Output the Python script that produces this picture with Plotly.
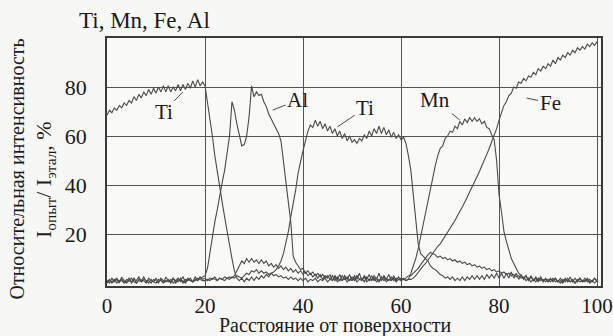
import numpy as np
import plotly.graph_objects as go

# sampling positions along the depth axis (every 0.5 unit)
distance = np.arange(0, 100.5, 0.5)

ti = [
    68.5, 70.5, 69.5, 71.5, 70.5, 72.5, 71.5, 73.5, 72.5, 74.5, 73.5, 76, 74.5, 77, 75.5, 78, 76.5, 79, 77, 79.5,
    77.5, 80, 78, 80.5, 78, 80.5, 78, 80, 78.5, 81, 78.5, 81, 79, 81.5, 79.5, 82.5, 80, 83, 80.5, 82,
    80.5, 74, 66, 60, 52, 45, 38, 33, 27, 21, 16, 10, 5, 2, 1, 2, 0.5, 2, 1, 2.5,
    1, 2.5, 1.5, 3, 2, 3.5, 2.5, 4, 4.5, 5.5, 7, 9, 12, 16, 21, 27, 32, 38, 45, 50,
    54, 58, 62, 64.5, 63.5, 66.5, 64, 66, 63, 65, 62, 64, 61, 63, 60, 62, 59, 61, 58, 60,
    57.5, 58.5, 57, 59, 58, 60.5, 59, 62, 60, 63, 61, 64, 61, 63.5, 60.5, 62.5, 59.5, 61.5, 59, 60.5,
    58.5, 59.5, 57, 52, 46, 36, 25, 16, 12, 11, 10, 9, 7, 6, 5.5, 4.5, 3.5, 3, 2, 2.5,
    1.5, 2.5, 1, 2, 1, 2.5, 1, 2.5, 1.5, 3, 1.5, 3, 1.5, 3, 1.5, 3.5, 2, 3.5, 2, 4,
    2, 4, 2, 4, 2, 4.5, 2, 4, 1.5, 3.5, 1.5, 3, 1, 3, 1, 2.5, 1, 2.5, 0.5, 2,
    0.5, 2, 0.5, 2, 0.5, 2, 0.5, 2, 0.5, 2.5, 0.5, 2, 0.5, 2, 0.5, 2, 0.5, 1.5, 0.5, 2,
    0.5,
]

al = [
    1, 0, 2, 0.5, 1.5, 0, 2.5, 1, 0.5, 2, 0, 1.5, 1, 2.5, 0.5, 1, 0, 2, 1, 0.5,
    2, 0.5, 1.5, 0, 2.5, 1, 0.5, 2, 0, 1.5, 1, 2.5, 0.5, 2, 1, 0.5, 2.5, 1, 2, 2.5,
    3, 6, 13, 19, 25, 30, 36, 41, 46, 53, 60, 74, 70.5, 65, 60, 56, 56.5, 60, 68, 80.5,
    76, 78, 76.5, 77, 74, 72, 69, 67, 65, 63, 61, 58, 49, 40, 33, 25, 11, 8.5, 7, 5.5,
    6, 4, 5, 3.5, 4.5, 3, 4, 2.5, 3.5, 2, 3, 1.5, 3, 1, 2.5, 1, 3, 1.5, 2.5, 1,
    2.5, 1, 3, 1.5, 2, 0.5, 2.5, 1, 3, 1, 2, 0.5, 2.5, 1, 2, 1, 2.5, 1, 2, 1.5,
    2, 1.5, 2, 3, 3, 4, 5, 6, 7.5, 9, 10.5, 11.5, 12.5, 12, 11.5, 10.5, 11, 10, 10.5, 9.5,
    10, 9, 9.5, 8.5, 9, 8, 8.5, 7.5, 8, 7, 7.5, 6.5, 7, 6, 6.5, 5.5, 6, 5, 5.5, 4.5,
    5, 4, 4.5, 3.5, 4, 3, 3.5, 2.5, 3, 2, 2.5, 1, 2, 0.5, 1.5, 0.5, 2, 1, 1.5, 0.5,
    1.5, 0.5, 2, 0.5, 1, 0, 1.5, 0.5, 2, 0.5, 1, 0, 1.5, 0.5, 1, 0.5, 2, 0.5, 1, 0,
    1,
]

mn = [
    0.5, 1.5, 0, 1, 2, 0.5, 1, 0, 1.5, 1, 2, 0.5, 0, 1.5, 1, 2.5, 0.5, 1, 0, 1.5,
    1, 0, 2, 1, 0.5, 1.5, 0, 2, 1, 0.5, 2, 0, 1.5, 1, 2, 0.5, 1.5, 1, 2.5, 1.5,
    2, 1, 2, 1.5, 2.5, 1, 2, 1.5, 2.5, 2, 2.5, 2, 3, 5, 7, 9, 8, 10, 8.5, 10,
    8.5, 9.5, 8, 9.5, 8, 9, 7, 8, 6.5, 7.5, 6, 7, 5.5, 6.5, 5, 6, 4.5, 5.5, 4, 5,
    3.5, 4.5, 3, 4, 2.5, 3.5, 2, 3.5, 1.5, 3, 2, 3.5, 1, 3, 1.5, 3.5, 1, 3, 1.5, 3.5,
    1, 3, 1.5, 4, 1, 3, 1.5, 3.5, 1, 3, 1.5, 4, 1, 3, 1.5, 3.5, 1, 3, 1, 2.5,
    1, 2, 1, 1.5, 4, 7, 10, 14, 19, 24, 29, 34, 39, 43, 48, 52, 55, 56, 59, 60,
    62, 61.5, 64, 63, 66, 64.5, 67, 65.5, 67.5, 66, 67.5, 66, 67, 65, 66, 63.5, 63, 60.5, 58.5, 50,
    36, 29, 21, 17, 13, 10, 8, 6, 4, 3, 2, 3, 1, 2.5, 1, 2, 0.5, 2, 1, 1.5,
    0.5, 1.5, 1, 2, 0.5, 1, 0, 1.5, 1, 0.5, 1.5, 0, 1, 2, 0.5, 1, 1.5, 0, 1, 2,
    1,
]

fe = [
    0, 1, 0.5, 1.5, 0, 1, 1.5, 0.5, 0, 1, 0.5, 2, 0, 1, 0.5, 1.5, 1, 0, 1.5, 0.5,
    0, 1.5, 1, 0, 1, 0.5, 1.5, 0, 1, 2, 0.5, 1, 0, 1.5, 1, 0.5, 1, 2, 1.5, 1,
    1, 1.5, 1, 2, 1.5, 1, 2, 1.5, 1, 2, 1.5, 2.5, 2, 3, 2.5, 2, 3, 4, 3.5, 5,
    4.5, 5.5, 4, 5, 4, 4.5, 3.5, 4, 3, 3.5, 2.5, 3, 2, 2.5, 1.5, 2.5, 1.5, 2, 1, 2,
    1, 2, 0.5, 1.5, 1, 2, 0.5, 1.5, 1, 2, 0.5, 1.5, 1, 2.5, 0.5, 1.5, 1, 2, 0.5, 1.5,
    1, 2, 0.5, 1.5, 1, 2.5, 0.5, 1.5, 1, 2, 0.5, 1.5, 1, 2.5, 0.5, 1.5, 1, 2, 0.5, 1.5,
    1, 1.5, 1, 1.5, 1.5, 2, 3, 4.5, 5.5, 7, 8, 9.5, 10.5, 12, 13.5, 15, 16, 17.5, 19, 21,
    22, 24, 25.5, 27.5, 29, 31, 33, 35, 37, 39, 41, 43, 45.5, 48, 50, 52.5, 55, 57.5, 60.5, 63,
    66.5, 70, 72.5, 74, 76.5, 77.5, 80, 79.5, 82, 81.5, 83.5, 82.5, 84.5, 84, 86, 85, 87.5, 86.5, 88.5, 87.5,
    89.5, 88.5, 91, 89.5, 92, 91, 93, 92, 94, 93, 95, 94, 96, 95, 96.5, 95.5, 97.5, 96.5, 98, 97,
    98.5,
]

x_ticks = [0, 20, 40, 60, 80, 100]
y_ticks = [20, 40, 60, 80]

# curve labels: (text, label x, label y, leader target x, leader target y)
labels = [
    ("Ti", 11.6, 70.0, 15.5, 78.0),
    ("Al", 38.9, 74.5, 33.8, 70.6),
    ("Ti", 52.7, 71.4, 47.0, 63.7),
    ("Mn", 67.0, 74.7, 72.0, 66.5),
    ("Fe", 90.4, 73.5, 85.6, 75.5),
]

FONT = "Times New Roman, Liberation Serif, DejaVu Serif, serif"
LINE = "#4a4a4a"
GRID = "#555555"
TXT = "#1a1a1a"

fig = go.Figure()
for series in (ti, al, mn, fe):
    fig.add_trace(go.Scatter(x=distance, y=series, mode="lines",
                             line=dict(color=LINE, width=1.1),
                             hoverinfo="skip", showlegend=False))

for text, tx, ty, px, py in labels:
    fig.add_annotation(x=px, y=py, ax=tx, ay=ty, xref="x", yref="y",
                       axref="x", ayref="y", text=text, showarrow=True,
                       arrowhead=0, arrowwidth=1, arrowcolor=LINE, standoff=0,
                       font=dict(family=FONT, size=21, color=TXT))

fig.add_annotation(x=-0.06, y=1.07, xref="paper", yref="paper",
                   text="Ti, Mn, Fe, Al", showarrow=False, xanchor="left",
                   yanchor="middle", font=dict(family=FONT, size=23, color=TXT))
fig.add_annotation(x=-0.182, y=0.47, xref="paper", yref="paper",
                   text="Относительная интенсивность", textangle=-90,
                   showarrow=False, xanchor="center", yanchor="middle",
                   font=dict(family=FONT, size=20, color=TXT))
fig.add_annotation(x=-0.124, y=0.43, xref="paper", yref="paper",
                   text="I<sub>опыт</sub>/ I<sub>этал</sub>, %", textangle=-90,
                   showarrow=False, xanchor="center", yanchor="middle",
                   font=dict(family=FONT, size=22, color=TXT))
fig.add_annotation(x=0.462, y=-0.158, xref="paper", yref="paper",
                   text="Расстояние от поверхности", showarrow=False,
                   xanchor="center", yanchor="middle",
                   font=dict(family=FONT, size=20, color=TXT))

axis_common = dict(showgrid=True, gridcolor=GRID, gridwidth=1.2,
                   showline=True, linecolor="#3a3a3a", linewidth=1.5, mirror=True,
                   zeroline=False, ticks="", fixedrange=True, automargin=False,
                   ticklabeloverflow="allow")
fig.update_xaxes(range=[0, 100.8], tickvals=x_ticks, ticklabelstandoff=0,
                 tickfont=dict(family=FONT, size=21, color=TXT), **axis_common)
fig.update_yaxes(range=[-1.2, 100], tickvals=y_ticks, ticklabelstandoff=14,
                 tickfont=dict(family=FONT, size=22, color=TXT), **axis_common)

fig.update_layout(width=613, height=336,
                  margin=dict(l=107, r=12, t=38, b=50),
                  paper_bgcolor="#f7f7f5", plot_bgcolor="#f9f9f7",
                  font=dict(family=FONT, color=TXT),
                  showlegend=False)

fig.write_html("out.html", config={"displayModeBar": False},
               post_script="document.body.style.margin='0';document.body.style.overflow='hidden';")
